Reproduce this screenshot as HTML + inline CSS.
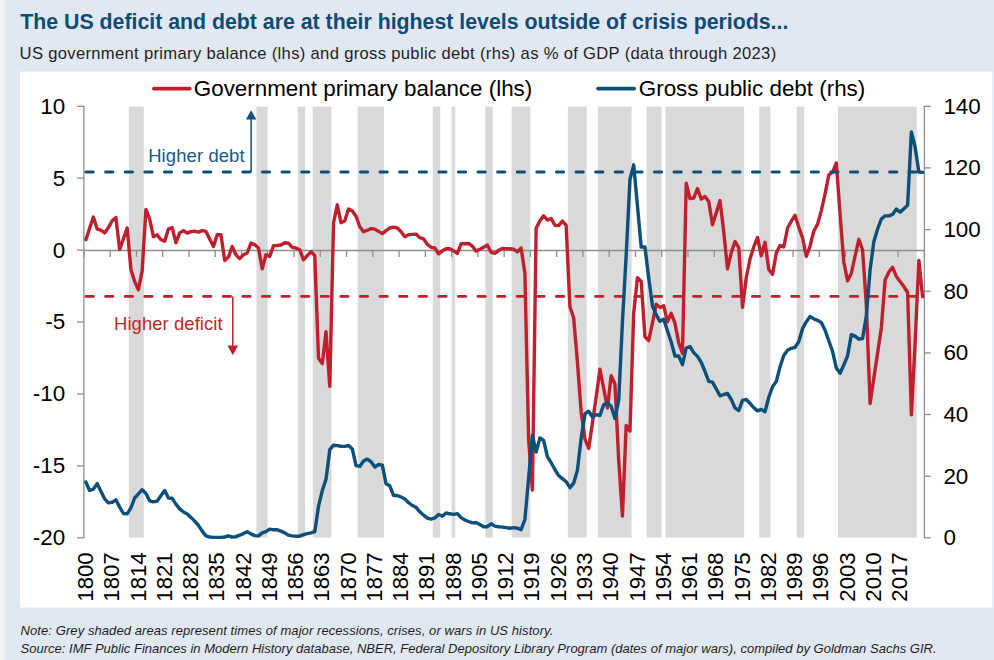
<!DOCTYPE html>
<html lang="en">
<head>
<meta charset="utf-8">
<title>The US deficit and debt are at their highest levels outside of crisis periods</title>
<style>
html,body{margin:0;padding:0;}
body{width:994px;height:660px;overflow:hidden;background:#e2e8f1;font-family:"Liberation Sans",sans-serif;}
#chart{position:absolute;left:0;top:0;width:994px;height:660px;display:block;}
#chart text{font-family:"Liberation Sans",sans-serif;}
.title{font-size:21.3px;font-weight:bold;fill:#0d4c78;}
.sub{font-size:16.6px;fill:#1e1e1e;letter-spacing:0.32px;}
.ax{font-size:22.4px;fill:#000;}
.xl{font-size:22.2px;fill:#000;}
.leg{font-size:22.4px;fill:#000;}
.note{font-size:13px;font-style:italic;fill:#1e1e1e;}
</style>
</head>
<body>
<svg id="chart" width="994" height="660" viewBox="0 0 994 660">
<rect x="0" y="0" width="994" height="660" fill="#e2e8f1"/>
<rect x="0" y="658.4" width="994" height="1.6" fill="#e2e9f6"/>
<rect x="0" y="0" width="5" height="660" fill="#eff2f8"/>
<rect x="20" y="71.6" width="972.4" height="536" fill="#ffffff"/>
<text class="title" x="20.3" y="29.3">The US deficit and debt are at their highest levels outside of crisis periods...</text>
<text class="sub" x="19.6" y="58.7">US government primary balance (lhs) and gross public debt (rhs) as % of GDP (data through 2023)</text>

<g fill="#d9d9d9">
<rect x="128.88" y="106.6" width="14.91" height="431.0"/>
<rect x="256.45" y="106.6" width="11.16" height="431.0"/>
<rect x="297.73" y="106.6" width="7.40" height="431.0"/>
<rect x="312.73" y="106.6" width="18.66" height="431.0"/>
<rect x="357.76" y="106.6" width="26.17" height="431.0"/>
<rect x="432.80" y="106.6" width="7.40" height="431.0"/>
<rect x="451.57" y="106.6" width="3.65" height="431.0"/>
<rect x="485.34" y="106.6" width="7.40" height="431.0"/>
<rect x="511.60" y="106.6" width="18.66" height="431.0"/>
<rect x="567.88" y="106.6" width="18.66" height="431.0"/>
<rect x="597.90" y="106.6" width="33.67" height="431.0"/>
<rect x="646.68" y="106.6" width="14.91" height="431.0"/>
<rect x="665.44" y="106.6" width="78.70" height="431.0"/>
<rect x="759.25" y="106.6" width="11.16" height="431.0"/>
<rect x="796.77" y="106.6" width="7.40" height="431.0"/>
<rect x="838.04" y="106.6" width="78.70" height="431.0"/>
</g>
<g stroke="#8e8e8e" stroke-width="1.3" fill="none">
<line x1="83.9" y1="105.8" x2="83.9" y2="538.3"/>
<line x1="924.4" y1="105.8" x2="924.4" y2="538.3"/>
<line x1="83.9" y1="250.5" x2="924.4" y2="250.5"/>
<line x1="76.9" y1="106.3" x2="83.9" y2="106.3"/>
<line x1="76.9" y1="178.2" x2="83.9" y2="178.2"/>
<line x1="76.9" y1="250.1" x2="83.9" y2="250.1"/>
<line x1="76.9" y1="322.0" x2="83.9" y2="322.0"/>
<line x1="76.9" y1="394.0" x2="83.9" y2="394.0"/>
<line x1="76.9" y1="465.9" x2="83.9" y2="465.9"/>
<line x1="76.9" y1="537.8" x2="83.9" y2="537.8"/>
<line x1="924.4" y1="537.8" x2="930.8" y2="537.8"/>
<line x1="924.4" y1="476.2" x2="930.8" y2="476.2"/>
<line x1="924.4" y1="414.5" x2="930.8" y2="414.5"/>
<line x1="924.4" y1="352.9" x2="930.8" y2="352.9"/>
<line x1="924.4" y1="291.2" x2="930.8" y2="291.2"/>
<line x1="924.4" y1="229.6" x2="930.8" y2="229.6"/>
<line x1="924.4" y1="167.9" x2="930.8" y2="167.9"/>
<line x1="924.4" y1="106.3" x2="930.8" y2="106.3"/>
<line x1="83.90" y1="250.5" x2="83.90" y2="256.9"/>
<line x1="110.17" y1="250.5" x2="110.17" y2="256.9"/>
<line x1="136.43" y1="250.5" x2="136.43" y2="256.9"/>
<line x1="162.70" y1="250.5" x2="162.70" y2="256.9"/>
<line x1="188.96" y1="250.5" x2="188.96" y2="256.9"/>
<line x1="215.23" y1="250.5" x2="215.23" y2="256.9"/>
<line x1="241.49" y1="250.5" x2="241.49" y2="256.9"/>
<line x1="267.76" y1="250.5" x2="267.76" y2="256.9"/>
<line x1="294.02" y1="250.5" x2="294.02" y2="256.9"/>
<line x1="320.29" y1="250.5" x2="320.29" y2="256.9"/>
<line x1="346.55" y1="250.5" x2="346.55" y2="256.9"/>
<line x1="372.82" y1="250.5" x2="372.82" y2="256.9"/>
<line x1="399.08" y1="250.5" x2="399.08" y2="256.9"/>
<line x1="425.35" y1="250.5" x2="425.35" y2="256.9"/>
<line x1="451.62" y1="250.5" x2="451.62" y2="256.9"/>
<line x1="477.88" y1="250.5" x2="477.88" y2="256.9"/>
<line x1="504.15" y1="250.5" x2="504.15" y2="256.9"/>
<line x1="530.41" y1="250.5" x2="530.41" y2="256.9"/>
<line x1="556.68" y1="250.5" x2="556.68" y2="256.9"/>
<line x1="582.94" y1="250.5" x2="582.94" y2="256.9"/>
<line x1="609.21" y1="250.5" x2="609.21" y2="256.9"/>
<line x1="635.47" y1="250.5" x2="635.47" y2="256.9"/>
<line x1="661.74" y1="250.5" x2="661.74" y2="256.9"/>
<line x1="688.00" y1="250.5" x2="688.00" y2="256.9"/>
<line x1="714.27" y1="250.5" x2="714.27" y2="256.9"/>
<line x1="740.53" y1="250.5" x2="740.53" y2="256.9"/>
<line x1="766.80" y1="250.5" x2="766.80" y2="256.9"/>
<line x1="793.07" y1="250.5" x2="793.07" y2="256.9"/>
<line x1="819.33" y1="250.5" x2="819.33" y2="256.9"/>
<line x1="845.60" y1="250.5" x2="845.60" y2="256.9"/>
<line x1="871.86" y1="250.5" x2="871.86" y2="256.9"/>
<line x1="898.13" y1="250.5" x2="898.13" y2="256.9"/>
<line x1="924.39" y1="250.5" x2="924.39" y2="256.9"/>
</g>
<text class="ax" text-anchor="end" x="65.1" y="113.7">10</text>
<text class="ax" text-anchor="end" x="65.1" y="185.6">5</text>
<text class="ax" text-anchor="end" x="65.1" y="257.5">0</text>
<text class="ax" text-anchor="end" x="65.1" y="329.4">-5</text>
<text class="ax" text-anchor="end" x="65.1" y="401.4">-10</text>
<text class="ax" text-anchor="end" x="65.1" y="473.3">-15</text>
<text class="ax" text-anchor="end" x="65.1" y="545.2">-20</text>
<text class="ax" x="943.4" y="545.2">0</text>
<text class="ax" x="943.4" y="483.6">20</text>
<text class="ax" x="943.4" y="421.9">40</text>
<text class="ax" x="943.4" y="360.3">60</text>
<text class="ax" x="943.4" y="298.6">80</text>
<text class="ax" x="943.4" y="237.0">100</text>
<text class="ax" x="943.4" y="175.3">120</text>
<text class="ax" x="943.4" y="113.7">140</text>
<text class="xl" text-anchor="end" transform="translate(92.98 552.3) rotate(-90)">1800</text>
<text class="xl" text-anchor="end" transform="translate(119.24 552.3) rotate(-90)">1807</text>
<text class="xl" text-anchor="end" transform="translate(145.51 552.3) rotate(-90)">1814</text>
<text class="xl" text-anchor="end" transform="translate(171.77 552.3) rotate(-90)">1821</text>
<text class="xl" text-anchor="end" transform="translate(198.04 552.3) rotate(-90)">1828</text>
<text class="xl" text-anchor="end" transform="translate(224.30 552.3) rotate(-90)">1835</text>
<text class="xl" text-anchor="end" transform="translate(250.57 552.3) rotate(-90)">1842</text>
<text class="xl" text-anchor="end" transform="translate(276.83 552.3) rotate(-90)">1849</text>
<text class="xl" text-anchor="end" transform="translate(303.10 552.3) rotate(-90)">1856</text>
<text class="xl" text-anchor="end" transform="translate(329.36 552.3) rotate(-90)">1863</text>
<text class="xl" text-anchor="end" transform="translate(355.63 552.3) rotate(-90)">1870</text>
<text class="xl" text-anchor="end" transform="translate(381.90 552.3) rotate(-90)">1877</text>
<text class="xl" text-anchor="end" transform="translate(408.16 552.3) rotate(-90)">1884</text>
<text class="xl" text-anchor="end" transform="translate(434.43 552.3) rotate(-90)">1891</text>
<text class="xl" text-anchor="end" transform="translate(460.69 552.3) rotate(-90)">1898</text>
<text class="xl" text-anchor="end" transform="translate(486.96 552.3) rotate(-90)">1905</text>
<text class="xl" text-anchor="end" transform="translate(513.22 552.3) rotate(-90)">1912</text>
<text class="xl" text-anchor="end" transform="translate(539.49 552.3) rotate(-90)">1919</text>
<text class="xl" text-anchor="end" transform="translate(565.75 552.3) rotate(-90)">1926</text>
<text class="xl" text-anchor="end" transform="translate(592.02 552.3) rotate(-90)">1933</text>
<text class="xl" text-anchor="end" transform="translate(618.28 552.3) rotate(-90)">1940</text>
<text class="xl" text-anchor="end" transform="translate(644.55 552.3) rotate(-90)">1947</text>
<text class="xl" text-anchor="end" transform="translate(670.81 552.3) rotate(-90)">1954</text>
<text class="xl" text-anchor="end" transform="translate(697.08 552.3) rotate(-90)">1961</text>
<text class="xl" text-anchor="end" transform="translate(723.35 552.3) rotate(-90)">1968</text>
<text class="xl" text-anchor="end" transform="translate(749.61 552.3) rotate(-90)">1975</text>
<text class="xl" text-anchor="end" transform="translate(775.88 552.3) rotate(-90)">1982</text>
<text class="xl" text-anchor="end" transform="translate(802.14 552.3) rotate(-90)">1989</text>
<text class="xl" text-anchor="end" transform="translate(828.41 552.3) rotate(-90)">1996</text>
<text class="xl" text-anchor="end" transform="translate(854.67 552.3) rotate(-90)">2003</text>
<text class="xl" text-anchor="end" transform="translate(880.94 552.3) rotate(-90)">2010</text>
<text class="xl" text-anchor="end" transform="translate(907.20 552.3) rotate(-90)">2017</text>
<polyline fill="none" stroke="#c01f2d" stroke-width="3.4" stroke-linejoin="round" stroke-linecap="round" points="85.88,239.7 89.63,228.3 93.38,217.0 97.13,229.1 100.88,230.2 104.64,232.9 108.39,227.6 112.14,220.8 115.89,217.4 119.65,249.5 123.40,238.9 127.15,228.0 130.90,269.2 134.65,281.4 138.41,289.7 142.16,270.8 145.91,209.4 149.66,219.2 153.42,236.7 157.17,234.7 160.92,239.7 164.67,241.2 168.42,229.1 172.18,227.6 175.93,242.7 179.68,232.9 183.43,230.6 187.19,233.2 190.94,231.7 194.69,231.1 198.44,232.1 202.19,230.6 205.95,231.4 209.70,238.9 213.45,246.5 217.20,234.7 220.96,234.7 224.71,260.5 228.46,257.1 232.21,246.5 235.96,254.8 239.72,258.6 243.47,254.8 247.22,253.0 250.97,243.2 254.73,244.7 258.48,248.0 262.23,268.9 265.98,254.8 269.73,256.4 273.49,245.8 277.24,245.5 280.99,245.0 284.74,242.7 288.49,243.2 292.25,247.3 296.00,248.0 299.75,249.8 303.50,259.8 307.26,255.6 311.01,251.8 314.76,255.5 318.51,358.3 322.26,363.6 326.02,331.8 329.77,386.4 333.52,223.0 337.27,204.8 341.03,222.7 344.78,220.8 348.53,209.1 352.28,210.9 356.03,216.2 359.79,226.8 363.54,231.8 367.29,230.2 371.04,228.6 374.80,229.1 378.55,231.4 382.30,233.6 386.05,230.6 389.80,228.0 393.56,227.1 397.31,228.0 401.06,231.8 404.81,236.7 408.57,234.7 412.32,234.4 416.07,234.1 419.82,237.7 423.57,238.9 427.33,244.2 431.08,247.3 434.83,248.0 438.58,253.8 442.34,250.8 446.09,248.8 449.84,248.8 453.59,250.8 457.34,253.3 461.10,243.8 464.85,243.8 468.60,243.5 472.35,246.2 476.10,251.1 479.86,249.2 483.61,247.3 487.36,245.0 491.11,252.3 494.87,253.3 498.62,250.3 502.37,248.5 506.12,248.8 509.87,248.8 513.63,249.2 517.38,251.8 521.13,248.0 524.88,273.0 528.64,440.0 532.39,490.0 536.14,228.3 539.89,220.8 543.64,215.9 547.40,220.0 551.15,218.5 554.90,225.3 558.65,225.6 562.41,221.1 566.16,225.3 569.91,306.7 573.66,318.0 577.41,362.0 581.17,412.0 584.92,439.0 588.67,448.5 592.42,423.0 596.18,397.0 599.93,369.3 603.68,388.5 607.43,408.0 611.18,375.6 614.94,384.0 618.69,460.0 622.44,516.0 626.19,425.5 629.95,431.0 633.70,313.0 637.45,277.7 641.20,281.5 644.95,336.8 648.71,340.6 652.46,323.2 656.21,304.2 659.96,307.3 663.71,305.8 667.47,321.7 671.22,313.3 674.97,323.2 678.72,342.9 682.48,353.5 686.23,183.2 689.98,198.6 693.73,198.0 697.48,188.5 701.24,199.1 704.99,196.5 708.74,201.4 712.49,224.8 716.25,212.7 720.00,200.6 723.75,231.7 727.50,268.9 731.25,252.6 735.01,241.5 738.76,247.6 742.51,307.3 746.26,277.7 750.02,259.0 753.77,246.8 757.52,237.4 761.27,255.9 765.02,242.3 768.78,269.4 772.53,274.4 776.28,253.0 780.03,245.4 783.79,246.9 787.54,228.0 791.29,221.2 795.04,215.2 798.79,227.3 802.55,237.9 806.30,256.5 810.05,246.0 813.80,231.1 817.56,224.2 821.31,210.6 825.06,193.9 828.81,174.8 832.56,172.3 836.32,162.9 840.07,214.0 843.82,262.0 847.57,280.8 851.32,273.5 855.08,256.0 858.83,239.3 862.58,250.0 866.33,305.0 870.09,403.5 873.84,378.0 877.59,353.0 881.34,328.0 885.09,280.0 888.85,272.0 892.60,267.3 896.35,276.4 900.10,281.5 903.86,286.5 907.61,292.5 911.36,414.8 915.11,343.0 918.86,260.5 922.62,296.8"/>
<line x1="86.0" y1="296.4" x2="924.4" y2="296.4" stroke="#c01f2d" stroke-width="2.9" stroke-dasharray="7.3 12.3" stroke-linecap="round"/>
<polyline fill="none" stroke="#0b4f7a" stroke-width="3.4" stroke-linejoin="round" stroke-linecap="round" points="85.88,482.1 89.63,490.5 93.38,489.2 97.13,483.6 100.88,491.2 104.64,498.8 108.39,502.9 112.14,502.3 115.89,499.8 119.65,507.1 123.40,513.5 127.15,513.9 130.90,507.9 134.65,498.0 138.41,493.8 142.16,489.7 145.91,493.5 149.66,500.8 153.42,501.8 157.17,501.1 160.92,495.8 164.67,490.5 168.42,498.0 172.18,498.3 175.93,504.1 179.68,508.9 183.43,512.0 187.19,513.9 190.94,517.4 194.69,521.1 198.44,525.3 202.19,531.1 205.95,535.9 209.70,537.0 213.45,537.4 217.20,537.4 220.96,537.4 224.71,537.0 228.46,535.9 232.21,537.1 235.96,536.7 239.72,535.2 243.47,533.6 247.22,531.7 250.97,533.9 254.73,535.6 258.48,535.9 262.23,532.9 265.98,531.7 269.73,529.1 273.49,529.8 277.24,529.8 280.99,531.1 284.74,532.9 288.49,535.2 292.25,535.9 296.00,536.2 299.75,536.2 303.50,534.7 307.26,533.6 311.01,532.9 314.76,531.7 318.51,506.4 322.26,490.6 326.02,479.2 329.77,449.7 333.52,445.2 337.27,445.6 341.03,446.2 344.78,446.4 348.53,445.5 352.28,448.9 356.03,465.6 359.79,466.4 363.54,461.1 367.29,459.1 371.04,461.8 374.80,467.1 378.55,464.5 382.30,465.2 386.05,483.8 389.80,485.8 393.56,495.5 397.31,495.5 401.06,497.0 404.81,498.9 408.57,502.7 412.32,505.5 416.07,507.3 419.82,511.8 423.57,515.2 427.33,518.2 431.08,519.1 434.83,517.9 438.58,514.5 442.34,516.1 446.09,513.0 449.84,513.8 453.59,514.4 457.34,513.6 461.10,517.6 464.85,520.0 468.60,521.5 472.35,522.9 476.10,522.6 479.86,524.5 483.61,526.7 487.36,526.7 491.11,523.8 494.87,526.1 498.62,526.7 502.37,527.1 506.12,527.6 509.87,528.2 513.63,527.6 517.38,528.2 521.13,529.7 524.88,519.5 528.64,477.9 532.39,435.2 536.14,452.1 539.89,437.9 543.64,440.5 547.40,456.7 551.15,462.7 554.90,469.5 558.65,475.6 562.41,478.6 566.16,481.7 569.91,487.7 573.66,483.2 577.41,470.3 581.17,438.0 584.92,413.9 588.67,411.2 592.42,417.0 596.18,414.7 599.93,415.5 603.68,404.8 607.43,402.6 611.18,406.4 614.94,418.5 618.69,400.3 622.44,322.0 626.19,255.0 629.95,179.5 633.70,164.8 637.45,206.0 641.20,247.0 644.95,247.0 648.71,277.7 652.46,305.8 656.21,314.8 659.96,321.3 663.71,319.2 667.47,331.0 671.22,342.0 674.97,356.0 678.72,356.0 682.48,364.7 686.23,348.0 689.98,346.5 693.73,352.6 697.48,356.4 701.24,362.4 704.99,371.5 708.74,381.4 712.49,382.1 716.25,388.9 720.00,395.8 723.75,394.5 727.50,393.5 731.25,399.5 735.01,407.9 738.76,410.6 742.51,400.3 746.26,399.5 750.02,403.3 753.77,407.6 757.52,410.9 761.27,409.4 765.02,411.7 768.78,397.3 772.53,386.7 776.28,381.5 780.03,366.7 783.79,355.4 787.54,350.3 791.29,348.3 795.04,347.3 798.79,341.5 802.55,328.6 806.30,321.8 810.05,316.5 813.80,318.8 817.56,320.3 821.31,322.6 825.06,330.2 828.81,340.8 832.56,351.4 836.32,368.0 840.07,373.3 843.82,365.0 847.57,355.9 851.32,334.7 855.08,336.2 858.83,339.2 862.58,338.5 866.33,315.8 870.09,270.0 873.84,241.5 877.59,229.0 881.34,219.0 885.09,215.9 888.85,215.9 892.60,214.4 896.35,209.1 900.10,212.1 903.86,208.8 907.61,205.3 911.36,132.0 915.11,147.0 918.86,172.0 922.62,172.4"/>
<line x1="86.0" y1="172" x2="924.4" y2="172" stroke="#0b4f7a" stroke-width="2.9" stroke-dasharray="7.3 12.3" stroke-linecap="round"/>
<line x1="251.1" y1="172" x2="251.1" y2="118" stroke="#0b4f7a" stroke-width="1.5"/>
<polygon points="251.1,110.2 256.3,119.4 245.9,119.4" fill="#0b4f7a"/>
<text x="148.2" y="161.7" font-size="18.4" letter-spacing="0.13" fill="#17598a">Higher debt</text>
<line x1="232.8" y1="296.4" x2="232.8" y2="346" stroke="#c01f2d" stroke-width="1.5"/>
<polygon points="232.8,355.2 238.1,345.4 227.5,345.4" fill="#c01f2d"/>
<text x="114" y="329.5" font-size="18.4" letter-spacing="0.1" fill="#c0262e">Higher deficit</text>
<line x1="153.9" y1="88.6" x2="189.7" y2="88.6" stroke="#c01f2d" stroke-width="3.8" stroke-linecap="round"/>
<text class="leg" x="193.8" y="95.9">Government primary balance (lhs)</text>
<line x1="598.1" y1="88.6" x2="634.2" y2="88.6" stroke="#0b4f7a" stroke-width="3.8" stroke-linecap="round"/>
<text class="leg" x="638.8" y="95.9">Gross public debt (rhs)</text>
<text class="note" x="20.6" y="634.6" letter-spacing="0.077">Note: Grey shaded areas represent times of major recessions, crises, or wars in US history.</text>
<text class="note" x="20.6" y="653.4" letter-spacing="0.01">Source: IMF Public Finances in Modern History database, NBER, Federal Depository Library Program (dates of major wars), compiled by Goldman Sachs GIR.</text>
</svg>
</body>
</html>
